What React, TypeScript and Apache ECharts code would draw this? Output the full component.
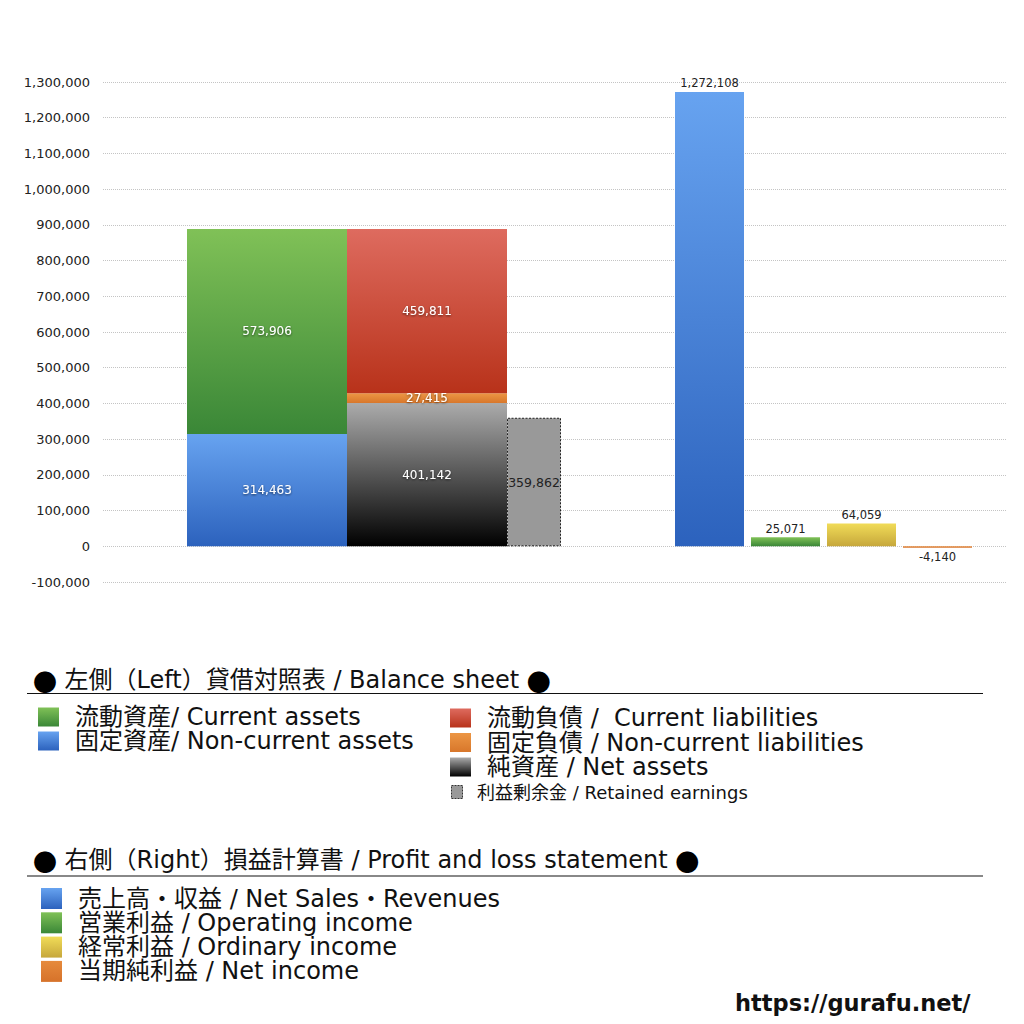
import { useEffect, useRef } from "react";
import * as echarts from "echarts";

// ---- data ----
const yMin = -100000;
const yMax = 1300000;
const yInterval = 100000;

const bsCategories = ["資産", "負債・純資産"];
const nonCurrentAssets = [314463, "-"];
const currentAssets = [573906, "-"];
const netAssets = ["-", 401142];
const nonCurrentLiabilities = ["-", 27415];
const currentLiabilities = ["-", 459811];

const reCategories = ["利益剰余金"];
const retainedEarnings = [359862];

const plCategories = ["売上高・収益", "営業利益", "経常利益", "当期純利益"];
const plValues = [1272108, 25071, 64059, -4140];

const bsHeader = "左側（Left）貸借対照表 / Balance sheet";
const plHeader = "右側（Right）損益計算書 / Profit and loss statement";
const bsLegendLeft = ["流動資産/ Current assets", "固定資産/ Non-current assets"];
const bsLegendRight = [
  "流動負債 /  Current liabilities",
  "固定負債 / Non-current liabilities",
  "純資産 / Net assets",
];
const reLegend = "利益剰余金 / Retained earnings";
const plLegend = [
  "売上高・収益 / Net Sales・Revenues",
  "営業利益 / Operating income",
  "経常利益 / Ordinary income",
  "当期純利益 / Net income",
];
const siteUrl = "https://gurafu.net/";

// ---- styles ----
const FONT = '"DejaVu Sans", "Noto Sans CJK JP", sans-serif';
const CJK = '"Noto Sans CJK JP", sans-serif';
const grad = (top: string, bottom: string) =>
  new echarts.graphic.LinearGradient(0, 0, 0, 1, [
    { offset: 0, color: top },
    { offset: 1, color: bottom },
  ]);
const C = {
  blue: ["#67a3f0", "#2c62bd"],
  green: ["#80c157", "#3a8737"],
  red: ["#de6b5f", "#b8321a"],
  orange: ["#ec9644", "#d8772b"],
  black: ["#ababab", "#000000"],
  yellow: ["#f1dc58", "#c6a73b"],
  netOrange: ["#e68a3c", "#d6722a"],
};

const fmt = (v: any) => Number(v).toLocaleString("en-US");

const insideLabel = {
  show: true,
  position: "inside",
  color: "#ffffff",
  fontSize: 12,
  fontFamily: FONT,
  textShadowColor: "rgba(0,0,0,0.6)",
  textShadowBlur: 2,
  textShadowOffsetY: 1,
  formatter: (p: any) => fmt(p.value),
};

export default function App() {
  const ref = useRef<HTMLDivElement>(null);
  useEffect(() => {
    document.body.style.margin = "0";
    if (!ref.current) return;
    const chart = echarts.init(ref.current, undefined, { renderer: "svg" });

    const top = 82;
    const bottom = 442;
    const yBase = { min: yMin, max: yMax, interval: yInterval };
    const hiddenY = (gi: number) => ({
      type: "value",
      gridIndex: gi,
      ...yBase,
      show: false,
      splitLine: { show: false },
    });

    const bsSeries = [
      { name: "固定資産", data: nonCurrentAssets, c: C.blue },
      { name: "流動資産", data: currentAssets, c: C.green },
      { name: "純資産", data: netAssets, c: C.black },
      { name: "固定負債", data: nonCurrentLiabilities, c: C.orange },
      { name: "流動負債", data: currentLiabilities, c: C.red },
    ].map((s) => ({
      type: "bar",
      name: s.name,
      stack: "bs",
      xAxisIndex: 1,
      yAxisIndex: 1,
      barWidth: "100%",
      data: s.data,
      itemStyle: { color: grad(s.c[0], s.c[1]) },
      label: insideLabel,
    }));

    const plColors = [C.blue, C.green, C.yellow, C.netOrange];

    const legendGraphics: any[] = [];
    const addText = (x: number, y: number, text: string, size: number, opts: any = {}) =>
      legendGraphics.push({
        type: "text",
        x,
        y,
        style: {
          text,
          font: `${opts.weight || "normal"} ${size}px ${FONT}`,
          fill: opts.fill || "#111111",
          verticalAlign: "middle",
          align: "left",
          lineHeight: size,
          rich: opts.rich,
        },
      });
    const addSwatch = (x: number, y: number, w: number, h: number, c: string[], dashed = false) =>
      legendGraphics.push({
        type: "rect",
        shape: { x, y: y - h / 2, width: w, height: h },
        style: dashed
          ? { fill: "#999999", stroke: "#333333", lineWidth: 1, lineDash: [2, 1] }
          : { fill: grad(c[0], c[1]) },
      });
    const dotRich = {
      d: { fontFamily: CJK, fontSize: 24, lineHeight: 24, fill: "#000000" },
    };

    addText(33, 680, `{d|●} ${bsHeader} {d|●}`, 24, { rich: dotRich });
    legendGraphics.push({
      type: "line",
      shape: { x1: 27, y1: 693.5, x2: 983, y2: 693.5 },
      style: { stroke: "#111111", lineWidth: 1 },
    });
    const bsLeftColors = [C.green, C.blue];
    bsLegendLeft.forEach((t, i) => {
      const y = 717 + i * 24;
      addSwatch(38, y, 21, 19, bsLeftColors[i]);
      addText(75, y, t, 24);
    });
    const bsRightColors = [C.red, C.orange, C.black];
    bsLegendRight.forEach((t, i) => {
      const y = 718 + i * 24.5;
      addSwatch(450, y, 21, 19, bsRightColors[i]);
      addText(487, y, t, 24);
    });
    addSwatch(451.5, 792, 11, 13, [], true);
    addText(477, 792, reLegend, 18);

    addText(33, 860, `{d|●} ${plHeader} {d|●}`, 24, { rich: dotRich });
    legendGraphics.push({
      type: "line",
      shape: { x1: 27, y1: 876, x2: 983, y2: 876 },
      style: { stroke: "#888888", lineWidth: 2 },
    });
    plLegend.forEach((t, i) => {
      const y = 898.5 + i * 24.3;
      addSwatch(41, y, 21, 21, plColors[i]);
      addText(78, y, t, 24);
    });
    addText(735, 1003, siteUrl, 22.5, { weight: "bold" });

    chart.setOption({
      animation: false,
      backgroundColor: "#ffffff",
      grid: [
        { left: 103, right: 17, top, bottom },
        { left: 187, width: 320, top, bottom },
        { left: 507, width: 54, top, bottom },
        { left: 671.5, width: 304, top, bottom },
      ],
      xAxis: [
        { type: "value", gridIndex: 0, min: 0, max: 1, show: false },
        { type: "category", gridIndex: 1, data: bsCategories, show: false },
        { type: "category", gridIndex: 2, data: reCategories, show: false },
        { type: "category", gridIndex: 3, data: plCategories, show: false },
      ],
      yAxis: [
        {
          type: "value",
          gridIndex: 0,
          ...yBase,
          axisLine: { show: false },
          axisTick: { show: false },
          axisLabel: {
            color: "#222222",
            fontSize: 13,
            fontFamily: FONT,
            margin: 13,
            formatter: (v: number) => fmt(v),
          },
          splitLine: {
            show: true,
            lineStyle: { color: "#c4c4c4", type: "dotted", width: 1 },
          },
        },
        hiddenY(1),
        hiddenY(2),
        hiddenY(3),
      ],
      series: [
        ...bsSeries,
        {
          type: "bar",
          name: "利益剰余金",
          xAxisIndex: 2,
          yAxisIndex: 2,
          barWidth: "100%",
          data: retainedEarnings,
          itemStyle: {
            color: "#999999",
            borderColor: "#222222",
            borderWidth: 1,
            borderType: [2, 1.5],
          },
          label: {
            show: true,
            position: "inside",
            color: "#222222",
            fontSize: 12.5,
            fontFamily: FONT,
            formatter: (p: any) => fmt(p.value),
          },
        },
        {
          type: "bar",
          name: "損益計算書",
          xAxisIndex: 3,
          yAxisIndex: 3,
          barWidth: 69,
          data: plValues.map((v, i) => ({
            value: v,
            itemStyle: { color: grad(plColors[i][0], plColors[i][1]) },
            label: { position: v < 0 ? "bottom" : "top" },
          })),
          label: {
            show: true,
            color: "#222222",
            fontSize: 11.5,
            fontFamily: FONT,
            distance: 3,
            formatter: (p: any) => fmt(p.value),
          },
        },
      ],
      graphic: legendGraphics,
    });

    return () => chart.dispose();
  }, []);
  return <div ref={ref} style={{ width: 1024, height: 1024 }} />;
}
